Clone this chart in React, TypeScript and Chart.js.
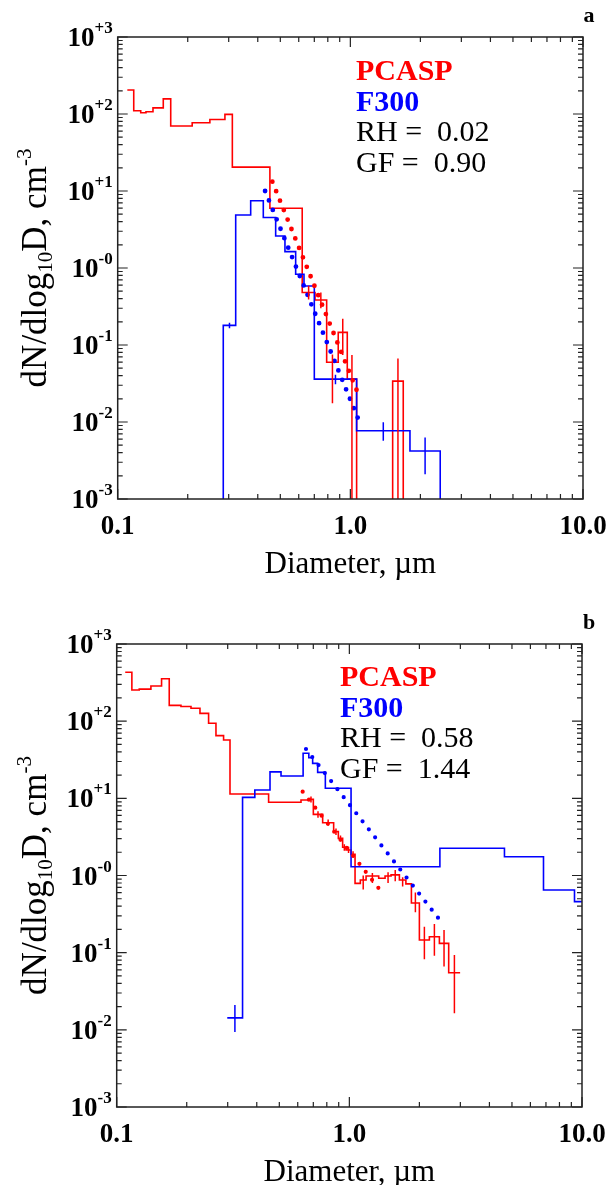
import React, { useEffect, useRef } from "react";
import { Chart, registerables } from "chart.js";
Chart.register(...registerables);

// ---------- shared axis content ----------
const xTickValues = [0.1, 1, 10];
const xTickLabels = ["0.1", "1.0", "10.0"];
const yTickValues = [1e-3, 1e-2, 1e-1, 1, 10, 100, 1000];
const yTickExponents = ["-3", "-2", "-1", "-0", "+1", "+2", "+3"];
const xTitle = "Diameter, µm";
const yTitleParts = ["dN/dlog", "10", "D, cm", "-3"];
const FLOOR = 1e-5; // zero counts (drawn at/below the axis floor)

// ---------- panel a ----------
const pcaspEdgesA = [0.110, 0.1172, 0.1256, 0.1323, 0.1418, 0.157, 0.169, 0.209, 0.249, 0.289, 0.311, 0.451, 0.621, 0.705, 0.791, 0.887, 0.970, 1.064, 1.52, 1.688];
const pcaspValuesA = [205, 110, 104, 107, 120, 157, 70, 77, 85, 99, 20.4, 5.96, 0.48, 0.384, 0.0596, 0.146, 0.036, 0, 0.034];
const pcaspErrHiA = [null, null, null, null, null, null, null, null, null, null, null, null, 0.59, 0.48, 0.075, 0.22, 0.074, null, 0.067];
const pcaspErrLoA = [null, null, null, null, null, null, null, null, null, null, null, null, 0.39, 0.30, 0.0175, 0.074, 0, null, 0];
const f300EdgesA = [0.2843, 0.3215, 0.3729, 0.4225, 0.4775, 0.5235, 0.582, 0.632, 0.700, 1.064, 1.804, 2.434];
const f300ValuesA = [0.18, 4.87, 7.48, 4.53, 2.60, 1.63, 0.828, 0.583, 0.036, 0.0077, 0.0042];
const f300ErrHiA = [0.195, null, null, null, null, null, null, null, 0.041, 0.0099, 0.0063];
const f300ErrLoA = [0.165, null, null, null, null, null, null, null, 0.031, 0.0057, 0.0021];
const pcaspFitXA = [0.462, 1.064];
const pcaspFitYA = [13.2, 0.026];
const f300FitXA = [0.43, 1.075];
const f300FitYA = [10, 0.0114];
const legendA = ["PCASP", "F300", "RH =  0.02", "GF =  0.90"];

// ---------- panel b ----------
const pcaspEdgesB = [0.1088, 0.1162, 0.125, 0.1403, 0.1559, 0.1682, 0.1889, 0.2086, 0.228, 0.2483, 0.2671, 0.288, 0.3069, 0.4497, 0.6197, 0.6683, 0.7002, 0.7678, 0.8561, 0.8968, 0.9358, 0.9678, 1.017, 1.058, 1.115, 1.180, 1.337, 1.424, 1.511, 1.641, 1.750, 1.848, 2.000, 2.208, 2.438, 2.673, 2.993];
const pcaspValuesB = [430, 254, 260, 286, 355, 160, 155, 147, 126, 94, 65, 57, 11.4, 8.9, 9.5, 9.7, 6.2, 4.83, 3.70, 3.03, 2.32, 2.14, 1.88, 0.79, 0.875, 0.986, 0.92, 0.985, 1.02, 0.875, 0.78, 0.44, 0.146, 0.161, 0.132, 0.055];
const pcaspErrHiB = [null, null, null, null, null, null, null, null, null, null, null, null, null, null, null, 10.6, 6.8, 5.3, 4.05, 3.3, 2.55, 2.35, 2.06, null, 1.0, 1.08, null, 1.1, 1.18, 0.95, null, 0.60, 0.217, 0.236, 0.197, 0.093];
const pcaspErrLoB = [null, null, null, null, null, null, null, null, null, null, null, null, null, null, null, 8.8, 5.6, 4.4, 3.35, 2.75, 2.1, 1.95, 1.7, null, 0.66, 0.80, null, 0.8, 0.84, 0.72, null, 0.335, 0.082, 0.091, 0.066, 0.0164];
const f300EdgesB = [0.2987, 0.3475, 0.3924, 0.456, 0.5085, 0.6328, 0.6696, 0.6954, 0.7307, 0.7885, 1.017, 2.450, 4.642, 6.831, 9.284, 11];
const f300ValuesB = [0.0143, 10.3, 12.8, 22, 19.5, 38.4, 33.6, 28.4, 21.7, 13.5, 1.30, 2.25, 1.75, 0.648, 0.458];
const f300ErrHiB = [0.021, null, null, null, null, null, null, null, null, null, null, null, null, null, null];
const f300ErrLoB = [0.0094, null, null, null, null, null, null, null, null, null, null, null, null, null, null];
const pcaspFitXB = [0.63, 1.337];
const pcaspFitYB = [12.2, 0.682];
const f300FitXB = [0.651, 2.415];
const f300FitYB = [43.6, 0.279];
const legendB = ["PCASP", "F300", "RH =  0.58", "GF =  1.44"];

const RED = "#ff0000";
const BLUE = "#0000ff";
const FONT = "'Liberation Serif', 'Times New Roman', serif";

type Panel = {
  letter: string;
  top: number;
  height: number;
  pad: { left: number; right: number; top: number; bottom: number };
  redEdges: number[]; redValues: number[]; redErrHi: (number | null)[]; redErrLo: (number | null)[];
  redStartFloor: boolean; redEndFloor: boolean;
  blueEdges: number[]; blueValues: number[]; blueErrHi: (number | null)[]; blueErrLo: (number | null)[];
  blueStartFloor: boolean; blueEndFloor: boolean;
  redFitX: number[]; redFitY: number[]; blueFitX: number[]; blueFitY: number[];
  legend: string[]; legendX: number; legendBase: number;
  dot: number;
};

const panels: Panel[] = [
  {
    letter: "a", top: 0, height: 590,
    pad: { left: 117.7, right: 29, top: 37, bottom: 91 },
    redEdges: pcaspEdgesA, redValues: pcaspValuesA, redErrHi: pcaspErrHiA, redErrLo: pcaspErrLoA,
    redStartFloor: false, redEndFloor: true,
    blueEdges: f300EdgesA, blueValues: f300ValuesA, blueErrHi: f300ErrHiA, blueErrLo: f300ErrLoA,
    blueStartFloor: true, blueEndFloor: true,
    redFitX: pcaspFitXA, redFitY: pcaspFitYA, blueFitX: f300FitXA, blueFitY: f300FitYA,
    legend: legendA, legendX: 356, legendBase: 80, dot: 4.8,
  },
  {
    letter: "b", top: 590, height: 595,
    pad: { left: 116.7, right: 30, top: 54, bottom: 78 },
    redEdges: pcaspEdgesB, redValues: pcaspValuesB, redErrHi: pcaspErrHiB, redErrLo: pcaspErrLoB,
    redStartFloor: false, redEndFloor: false,
    blueEdges: f300EdgesB, blueValues: f300ValuesB, blueErrHi: f300ErrHiB, blueErrLo: f300ErrLoB,
    blueStartFloor: false, blueEndFloor: false,
    redFitX: pcaspFitXB, redFitY: pcaspFitYB, blueFitX: f300FitXB, blueFitY: f300FitYB,
    legend: legendB, legendX: 340, legendBase: 96, dot: 4.2,
  },
];

function stepPoints(edges: number[], values: number[], startFloor: boolean, endFloor: boolean) {
  const pts: { x: number; y: number }[] = [];
  if (startFloor) pts.push({ x: edges[0], y: FLOOR });
  values.forEach((v, i) => pts.push({ x: edges[i], y: v > 0 ? v : FLOOR }));
  const last = values[values.length - 1];
  pts.push({ x: edges[values.length], y: endFloor ? FLOOR : last });
  return pts;
}

function fitPoints(xs: number[], ys: number[]) {
  return xs.map((x, i) => ({ x, y: ys[i] }));
}

function makePlugin(p: Panel) {
  return {
    id: "decor_" + p.letter,
    afterDatasetsDraw(chart: any) {
      const { ctx, chartArea } = chart;
      const { left, right, top, bottom } = chartArea;
      const xs = chart.scales.x;
      const ys = chart.scales.y;

      // error bars
      ctx.save();
      ctx.beginPath();
      ctx.rect(left, top, right - left, bottom - top);
      ctx.clip();
      ctx.lineWidth = 1.5;
      const drawErr = (edges: number[], hi: (number | null)[], lo: (number | null)[], color: string) => {
        ctx.strokeStyle = color;
        hi.forEach((h, i) => {
          if (h == null) return;
          const l = lo[i] as number;
          const cx = Math.sqrt(edges[i] * edges[i + 1]);
          const px = xs.getPixelForValue(cx);
          const y1 = ys.getPixelForValue(h);
          const y2 = l > 0 ? ys.getPixelForValue(l) : bottom + 5;
          ctx.beginPath();
          ctx.moveTo(px, y1);
          ctx.lineTo(px, y2);
          ctx.stroke();
        });
      };
      drawErr(p.redEdges, p.redErrHi, p.redErrLo, RED);
      drawErr(p.blueEdges, p.blueErrHi, p.blueErrLo, BLUE);
      ctx.restore();

      // frame
      ctx.save();
      ctx.strokeStyle = "#222";
      ctx.lineWidth = 1.5;
      ctx.strokeRect(left, top, right - left, bottom - top);
      ctx.lineWidth = 1.2;
      ctx.beginPath();
      for (let d = -1; d <= 1; d++) {
        for (let m = 1; m <= 9; m++) {
          const v = m * Math.pow(10, d);
          if (v < 0.1 - 1e-9 || v > 10 + 1e-9) continue;
          const px = xs.getPixelForValue(v);
          const len = m === 1 ? 10 : 5;
          ctx.moveTo(px, bottom); ctx.lineTo(px, bottom - len);
          ctx.moveTo(px, top); ctx.lineTo(px, top + len);
        }
      }
      for (let d = -3; d <= 3; d++) {
        for (let m = 1; m <= 9; m++) {
          const v = m * Math.pow(10, d);
          if (v > 1000 + 1e-6) continue;
          const py = ys.getPixelForValue(v);
          const len = m === 1 ? 10 : 5;
          ctx.moveTo(left, py); ctx.lineTo(left + len, py);
          ctx.moveTo(right, py); ctx.lineTo(right - len, py);
        }
      }
      ctx.stroke();

      // x tick labels
      ctx.fillStyle = "#000";
      ctx.font = `bold 27px ${FONT}`;
      ctx.textAlign = "center";
      ctx.textBaseline = "alphabetic";
      xTickValues.forEach((v, i) => {
        ctx.fillText(xTickLabels[i], xs.getPixelForValue(v), bottom + 35);
      });
      // x title
      ctx.font = `31px ${FONT}`;
      ctx.fillText(xTitle, (left + right) / 2, bottom + 74);

      // y tick labels 10^n
      yTickValues.forEach((v, i) => {
        const py = ys.getPixelForValue(v);
        ctx.font = `bold 17px ${FONT}`;
        const supW = ctx.measureText(yTickExponents[i]).width;
        ctx.font = `bold 27px ${FONT}`;
        const tenW = ctx.measureText("10").width;
        const xEnd = left - 5;
        ctx.textAlign = "left";
        ctx.fillText("10", xEnd - supW - tenW, py + 9);
        ctx.font = `bold 17px ${FONT}`;
        ctx.fillText(yTickExponents[i], xEnd - supW, py - 4);
      });

      // y title (rotated)
      ctx.save();
      ctx.translate(46, (top + bottom) / 2);
      ctx.rotate(-Math.PI / 2);
      const big = `35px ${FONT}`;
      const small = `21px ${FONT}`;
      const parts = [
        { t: yTitleParts[0], f: big, dy: 0 },
        { t: yTitleParts[1], f: small, dy: 6 },
        { t: yTitleParts[2], f: big, dy: 0 },
        { t: yTitleParts[3], f: small, dy: -15 },
      ];
      let total = 0;
      parts.forEach((pt) => { ctx.font = pt.f; total += ctx.measureText(pt.t).width; });
      let cx = -total / 2;
      ctx.textAlign = "left";
      parts.forEach((pt) => {
        ctx.font = pt.f;
        ctx.fillText(pt.t, cx, pt.dy);
        cx += ctx.measureText(pt.t).width;
      });
      ctx.restore();

      // legend text
      const colors = [RED, BLUE, "#000", "#000"];
      const weights = ["bold ", "bold ", "", ""];
      ctx.textAlign = "left";
      p.legend.forEach((t, i) => {
        ctx.fillStyle = colors[i];
        ctx.font = `${weights[i]}30px ${FONT}`;
        ctx.fillText(t, p.legendX, p.legendBase + i * 30.5);
      });

      // panel letter
      ctx.fillStyle = "#000";
      ctx.font = `bold 22px ${FONT}`;
      ctx.textAlign = "center";
      ctx.fillText(p.letter, 589, top - 15);
      ctx.restore();
    },
  };
}

function PanelChart({ p }: { p: Panel }) {
  const ref = useRef<HTMLCanvasElement | null>(null);
  useEffect(() => {
    if (!ref.current) return;
    const dotDash = [0, 10.2];
    const chart = new Chart(ref.current, {
      type: "line",
      data: {
        datasets: [
          {
            data: fitPoints(p.blueFitX, p.blueFitY),
            borderColor: BLUE, borderWidth: p.dot, borderDash: dotDash, borderCapStyle: "round",
            pointRadius: 0, fill: false, tension: 0,
          },
          {
            data: fitPoints(p.redFitX, p.redFitY),
            borderColor: RED, borderWidth: p.dot, borderDash: dotDash, borderCapStyle: "round",
            pointRadius: 0, fill: false, tension: 0,
          },
          {
            data: stepPoints(p.blueEdges, p.blueValues, p.blueStartFloor, p.blueEndFloor),
            borderColor: BLUE, borderWidth: 1.6, stepped: "before", pointRadius: 0, fill: false,
          },
          {
            data: stepPoints(p.redEdges, p.redValues, p.redStartFloor, p.redEndFloor),
            borderColor: RED, borderWidth: 1.6, stepped: "before", pointRadius: 0, fill: false,
          },
        ],
      } as any,
      options: {
        animation: false,
        responsive: false,
        devicePixelRatio: 1,
        events: [],
        layout: { padding: p.pad },
        plugins: { legend: { display: false }, tooltip: { enabled: false } },
        scales: {
          x: { type: "logarithmic", min: 0.1, max: 10, display: false },
          y: { type: "logarithmic", min: 1e-3, max: 1e3, display: false },
        },
      } as any,
      plugins: [makePlugin(p)],
    });
    return () => chart.destroy();
  }, [p]);
  return (
    <canvas
      ref={ref}
      width={612}
      height={p.height}
      style={{ position: "absolute", left: 0, top: p.top, width: 612, height: p.height }}
    />
  );
}

export default function App() {
  return (
    <div style={{ position: "absolute", left: 0, top: 0, width: 612, height: 1185, background: "#fff" }}>
      {panels.map((p) => (
        <PanelChart key={p.letter} p={p} />
      ))}
    </div>
  );
}
